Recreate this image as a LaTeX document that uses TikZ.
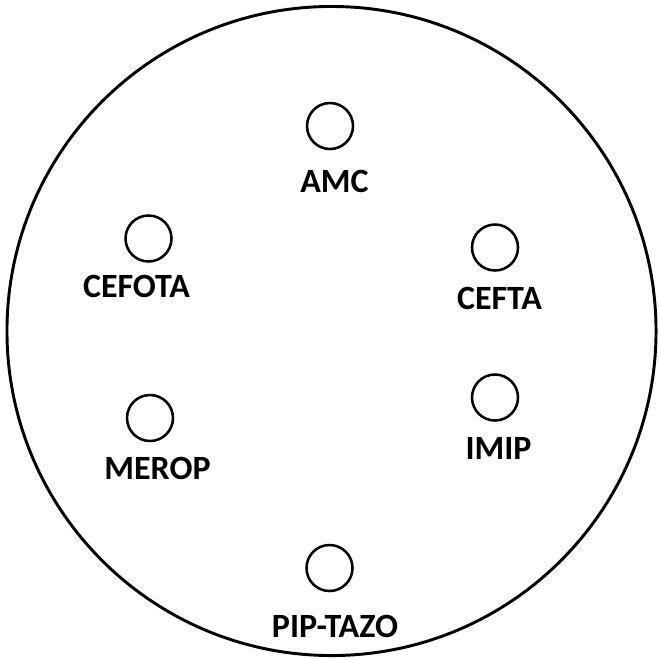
\documentclass[tikz,border=0pt]{standalone}
\usepackage{fontspec}
\setmainfont{Carlito}
\usepackage{tikz}

\tikzset{
  disc/.style={circle, draw, line width=1.9pt, minimum size=34.5pt, inner sep=0pt},
  drug/.style={font=\bfseries\fontsize{25.5}{30}\selectfont, inner sep=0pt}
}

\begin{document}
\begin{tikzpicture}[x=0.75pt, y=-0.75pt]
    \useasboundingbox (0,0) rectangle (659,658);

    % la boite de petri
    \draw[line width=2.2pt] (331.5,331) circle (243.4pt);

    % --- disques ---
    \node[disc] (amc) at (330,126) {};
    \node[disc] (cefota) at (148.5,238.5) {};
    \node[disc] (cefta) at (495,247.5) {};
    \node[disc] (merop) at (150,418) {};
    \node[disc] (imip) at (495,397.5) {};
    \node[disc] (piptazo) at (329.5,568) {};

    % --- noms des antibiotiques ---
    \node[drug] (amcLbl) at (334.5,181) {AMC};
    \node[drug] (cefotaLbl) at (136.5,286) {CEFOTA};
    \node[drug] (ceftaLbl) at (499.5,298) {CEFTA};
    \node[drug] (meropLbl) at (157.5,468.5) {MEROP};
    \node[drug] (imipLbl) at (498.5,448) {IMIP};
    \node[drug] (piptazoLbl) at (335,626) {PIP-TAZO};
\end{tikzpicture}
\end{document}
